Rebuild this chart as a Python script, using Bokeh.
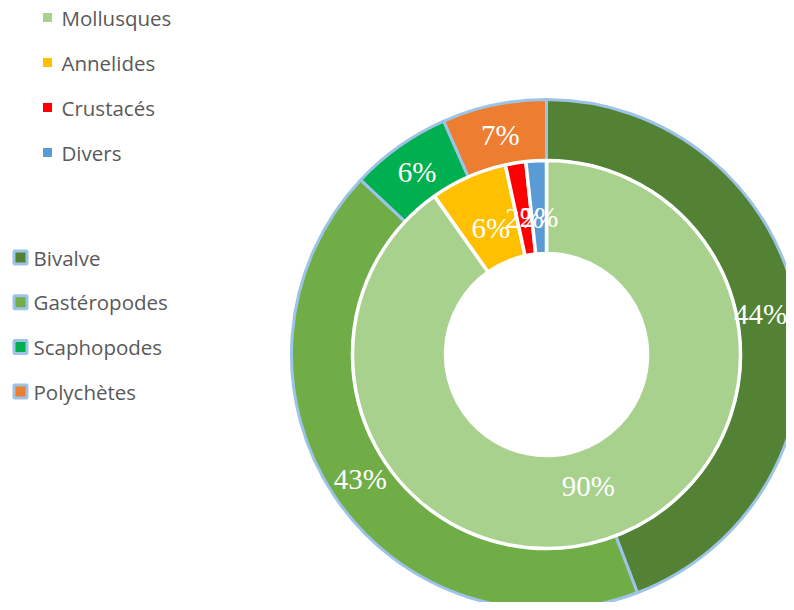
import math
from bokeh.plotting import figure
from bokeh.models import Range1d, ColumnDataSource
from bokeh.core.properties import value
from bokeh.embed import file_html
from bokeh.resources import INLINE

# ---- data ----
inner_labels = ["Mollusques", "Annelides", "Crustacés", "Divers"]
inner_values = [90.2, 6.4, 1.7, 1.7]
inner_colors = ["#A9D18E", "#FFC000", "#FF0000", "#5B9BD5"]

outer_labels = ["Bivalve", "Gastéropodes", "Scaphopodes", "Polychètes"]
outer_values = [44.2, 42.8, 6.4, 6.6]
outer_colors = ["#548235", "#70AD47", "#00B050", "#ED7D31"]

W, H = 786, 602
p = figure(width=W, height=H, x_range=Range1d(0, W), y_range=Range1d(0, H),
           output_backend="svg", toolbar_location=None, min_border=0,
           outline_line_color=None)
p.axis.visible = False
p.grid.visible = False
p.background_fill_color = "white"
p.border_fill_color = "white"

# reference-pixel coords -> data coords (y up)
def X(px):
    return px
def Y(py):
    return H - py

cx, cy = X(546), Y(354)
R_out, R_mid, R_in = 255, 194, 101


def ring(values, colors, r0, r1, lc, lw, lab_r):
    total = sum(values)
    starts, ends, lx, ly, txt = [], [], [], [], []
    cum = 0.0
    for v in values:
        a0 = math.pi / 2 - 2 * math.pi * cum / total
        a1 = math.pi / 2 - 2 * math.pi * (cum + v) / total
        starts.append(a0)
        ends.append(a1)
        am = (a0 + a1) / 2
        lx.append(min(cx + lab_r * math.cos(am), W - 26))
        ly.append(cy + lab_r * math.sin(am))
        txt.append(f"{round(100 * v / total)}%")
        cum += v
    src = ColumnDataSource(dict(x=[cx] * len(values), y=[cy] * len(values),
                                s=starts, e=ends, c=colors))
    p.annular_wedge(x="x", y="y", inner_radius=r0, outer_radius=r1,
                    inner_radius_units="screen", outer_radius_units="screen",
                    start_angle="s", end_angle="e", direction="clock",
                    fill_color="c", line_color=lc, line_width=lw, source=src)
    return lx, ly, txt

olx, oly, otxt = ring(outer_values, outer_colors, R_mid, R_out, "#9DC3E6", 3, 224)
ilx, ily, itxt = ring(inner_values, inner_colors, R_in, R_mid, "white", 3.5, 138)

p.text(x=olx + ilx, y=oly + ily, text=otxt + itxt,
       text_font=value("Liberation Serif"), text_font_size="29px",
       text_color="white", text_align="center", text_baseline="middle")

# ---- legends ----
lf = value("Open Sans")
top_y = [Y(17 + 45 * i) for i in range(len(inner_labels))]
p.scatter(x=[X(47)] * len(inner_labels), y=top_y, marker="square", size=9,
          fill_color=inner_colors, line_color=None)
p.text(x=[X(61)] * len(inner_labels), y=top_y, text=inner_labels,
       text_font=lf, text_font_size="20.5px", text_color="#595959",
       text_baseline="middle", text_align="left")

bot_y = [Y(257 + 44.7 * i) for i in range(len(outer_labels))]
p.scatter(x=[X(20)] * len(outer_labels), y=bot_y, marker="square", size=13,
          fill_color=outer_colors, line_color="#9DC3E6", line_width=3)
p.text(x=[X(33)] * len(outer_labels), y=bot_y, text=outer_labels,
       text_font=lf, text_font_size="20.5px", text_color="#595959",
       text_baseline="middle", text_align="left")

open("out.html", "w").write(file_html(p, INLINE))
